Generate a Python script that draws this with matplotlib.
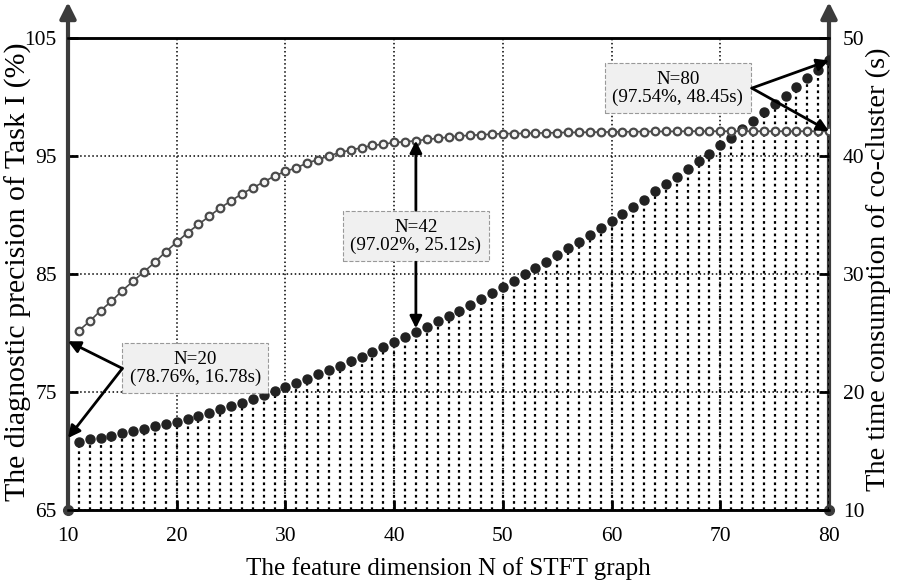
import matplotlib.pyplot as plt
import numpy as np

plt.rcParams['font.family'] = ['Liberation Serif', 'DejaVu Serif']

# Feature dimension N
n_dim = np.arange(11, 81)

# Diagnostic precision of Task I (%)
precision = np.array([
    80.2, 81.0, 81.9, 82.7, 83.6, 84.4, 85.2, 86.0, 86.9, 87.7,   # 11-20
    88.5, 89.2, 89.9, 90.6, 91.2, 91.8, 92.3, 92.8, 93.3, 93.7,   # 21-30
    94.0, 94.4, 94.7, 95.0, 95.3, 95.5, 95.7, 95.9, 96.0, 96.15,  # 31-40
    96.2, 96.3, 96.4, 96.5, 96.6, 96.7, 96.75, 96.8, 96.85, 96.9, # 41-50
    96.9, 96.92, 96.94, 96.96, 96.98, 97.0, 97.0, 97.02, 97.03, 97.04,  # 51-60
    97.05, 97.06, 97.07, 97.08, 97.08, 97.09, 97.1, 97.1, 97.1, 97.1,   # 61-70
    97.1, 97.1, 97.1, 97.1, 97.1, 97.1, 97.1, 97.1, 97.1, 97.1,         # 71-80
])

# Time consumption of co-cluster (s)
time_cost = np.array([
    15.8, 16.0, 16.1, 16.3, 16.5, 16.7, 16.9, 17.1, 17.3, 17.5,   # 11-20
    17.75, 18.0, 18.25, 18.55, 18.85, 19.1, 19.42, 19.75, 20.08, 20.45,  # 21-30
    20.8, 21.1, 21.5, 21.85, 22.2, 22.6, 23.0, 23.4, 23.8, 24.2,  # 31-40
    24.7, 25.1, 25.5, 26.0, 26.4, 26.9, 27.35, 27.9, 28.4, 28.9,  # 41-50
    29.4, 30.0, 30.5, 31.05, 31.6, 32.2, 32.7, 33.3, 33.9, 34.45, # 51-60
    35.1, 35.7, 36.3, 37.0, 37.6, 38.25, 38.9, 39.6, 40.2, 40.9,  # 61-70
    41.5, 42.3, 43.0, 43.7, 44.4, 45.1, 45.85, 46.6, 47.3, 48.1,  # 71-80
])

x_ticks = [10, 20, 30, 40, 50, 60, 70, 80]
left_ticks = [65, 75, 85, 95, 105]
right_ticks = [10, 20, 30, 40, 50]

fig = plt.figure(figsize=(8.98, 5.88), dpi=100)
ax1 = fig.add_axes([68 / 898, 78 / 588, 761 / 898, 472 / 588])
ax2 = ax1.twinx()

ax1.set_xlim(10, 80)
ax1.set_ylim(65, 105)
ax2.set_ylim(10, 50)

# grid
ax1.grid(True, color='black', linestyle=':', linewidth=1.1)
ax1.set_axisbelow(True)

# stems + dots (right axis)
ax2.vlines(n_dim, 10, time_cost, colors='black', linestyles=(0, (1.2, 1.6)), linewidth=1.6, zorder=2)
ax2.plot(n_dim, time_cost, 'o', color='#222222', markersize=6.5, zorder=3)

# precision curve (left axis)
ax2.plot(n_dim, precision, '-o', color='#4a4a4a', markerfacecolor='#f4f4f4', markeredgecolor='#4a4a4a',
         markersize=5.5, markeredgewidth=1.6, linewidth=1.2, transform=ax1.transData, zorder=4)

# axes styling
for sp in ['left', 'right']:
    ax1.spines[sp].set_visible(False)
    ax2.spines[sp].set_visible(False)
for a in (ax1, ax2):
    a.spines['top'].set_linewidth(1.8)
    a.spines['bottom'].set_linewidth(1.8)

ax1.set_xticks(x_ticks)
ax1.set_yticks(left_ticks)
ax2.set_yticks(right_ticks)
ax1.tick_params(axis='both', direction='in', length=7, width=2, labelsize=15.5, colors='black')
ax1.tick_params(axis='x', pad=12)
ax1.tick_params(axis='y', pad=8)
ax2.tick_params(axis='y', direction='in', length=7, width=2, labelsize=15.5, pad=10)

# vertical axis lines with arrows
for xf in (0, 1):
    ax1.annotate('', xy=(xf, 1.076), xytext=(xf, 0), xycoords='axes fraction',
                 arrowprops=dict(arrowstyle='-|>', lw=3, color='#3c3c3c', mutation_scale=24,
                                 shrinkA=0, shrinkB=0), annotation_clip=False, zorder=10)
ax1.plot([0, 1], [0, 0], 'o', color='#3c3c3c', markersize=7, transform=ax1.transAxes,
         clip_on=False, zorder=10)

ax1.set_xlabel('The feature dimension N of STFT graph', fontsize=18)
ax1.set_ylabel('The diagnostic precision of Task I (%)', fontsize=21.5)
ax2.set_ylabel('The time consumption of co-cluster (s)', fontsize=20.5)
ax1.xaxis.set_label_coords(0.5, -0.1)
ax1.yaxis.set_label_coords(-(68 - 32) / 761, 0.505)
ax2.yaxis.set_label_coords((866 - 68) / 761, 0.51)

# annotation boxes
box = dict(boxstyle='square,pad=0.4', facecolor='#f0f0f0', edgecolor='#999999', linestyle='--', linewidth=0.8)
arrow = dict(arrowstyle='-|>', lw=2, color='black', mutation_scale=18, shrinkA=0, shrinkB=0)
tf = ax1.transData

ax2.text(21.7, 77.0, 'N=20\n(78.76%, 16.78s)', transform=tf, ha='center', va='center',
         fontsize=13.7, bbox=box, zorder=20, linespacing=1.05)
ax2.text(42.0, 88.2, 'N=42\n(97.02%, 25.12s)', transform=tf, ha='center', va='center',
         fontsize=13.7, bbox=box, zorder=20, linespacing=1.05)
ax2.text(66.1, 100.75, 'N=80\n(97.54%, 48.45s)', transform=tf, ha='center', va='center',
         fontsize=13.7, bbox=box, zorder=20, linespacing=1.05)

for tip in [(10, 79.3), (10, 71.1)]:
    ax2.annotate('', xy=tip, xytext=(15.0, 77.0), xycoords=tf, textcoords=tf, arrowprops=arrow,
                 annotation_clip=False, zorder=21)
ax2.annotate('', xy=(42, 96.3), xytext=(42, 90.4), xycoords=tf, textcoords=tf, arrowprops=arrow, zorder=21)
ax2.annotate('', xy=(42, 80.4), xytext=(42, 86.0), xycoords=tf, textcoords=tf, arrowprops=arrow, zorder=21)
for tip in [(80, 103.1), (80, 97.1)]:
    ax2.annotate('', xy=tip, xytext=(72.9, 100.75), xycoords=tf, textcoords=tf, arrowprops=arrow,
                 annotation_clip=False, zorder=21)

fig.savefig('out.png', dpi=100)
